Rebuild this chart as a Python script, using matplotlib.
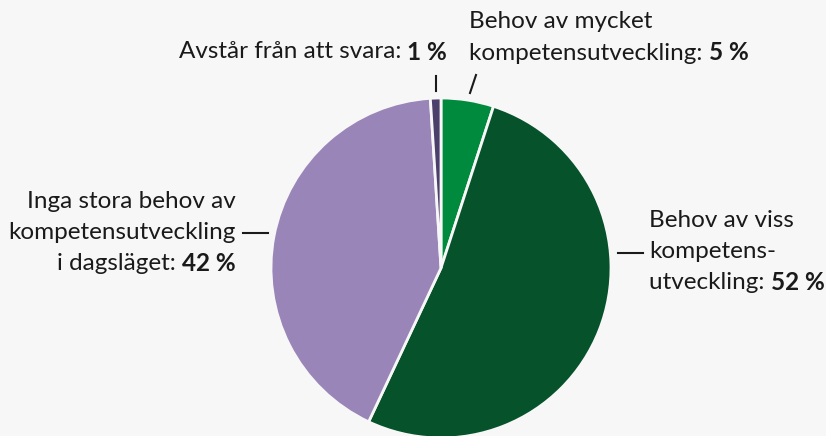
import matplotlib.pyplot as plt

plt.rcParams['font.family'] = ['Lato', 'DejaVu Sans']

shares = [5, 52, 42, 1]
colors = ['#008a3e', '#06522a', '#9985b8', '#4b3f6b']
labels = [
    (["Behov av mycket", "kompetensutveckling: "], "5 %"),
    (["Behov av viss", "kompetens-", "utveckling: "], "52 %"),
    (["Inga stora behov av", "kompetensutveckling", "i dagsläget: "], "42 %"),
    (["Avstår från att svara: "], "1 %"),
]

W, H = 826, 436
fig = plt.figure(figsize=(W / 100, H / 100), dpi=100)
fig.patch.set_facecolor('#f7f7f7')

cx, cy, r = 441, 268, 170
ax = fig.add_axes([(cx - r) / W, (H - cy - r) / H, 2 * r / W, 2 * r / H])
ax.pie(shares, colors=colors, startangle=90, counterclock=False,
       wedgeprops=dict(edgecolor='#f7f7f7', linewidth=2))
ax.set_xlim(-1, 1)
ax.set_ylim(-1, 1)
ax.set_aspect('equal')

# overlay in pixel coords for labels and leader lines
ov = fig.add_axes([0, 0, 1, 1])
ov.set_xlim(0, W)
ov.set_ylim(H, 0)
ov.axis('off')
ov.patch.set_alpha(0)

fs = 17.5
lh = 31
# (x, y of first line, align)
pos = [(469, 22, 'left'), (649, 220, 'left'), (236, 201, 'right'), (447, 52, 'right')]

fig.canvas.draw()
rend = fig.canvas.get_renderer()
inv = ov.transData.inverted()

for (lines, num), (x, y0, ha) in zip(labels, pos):
    for i, ln in enumerate(lines):
        y = y0 + i * lh
        last = i == len(lines) - 1
        if ha == 'left':
            t = ov.text(x, y, ln, ha='left', va='center', fontsize=fs, color='#1a1a1a')
            if last:
                bb = t.get_window_extent(rend)
                xe = inv.transform((bb.x1, bb.y0))[0]
                ov.text(xe, y, num, ha='left', va='center', fontsize=fs,
                        fontweight='bold', color='#1a1a1a')
        else:
            if last:
                b = ov.text(x, y, num, ha='right', va='center', fontsize=fs,
                            fontweight='bold', color='#1a1a1a')
                bb = b.get_window_extent(rend)
                xs = inv.transform((bb.x0, bb.y0))[0]
                ov.text(xs, y, ln, ha='right', va='center', fontsize=fs, color='#1a1a1a')
            else:
                ov.text(x, y, ln, ha='right', va='center', fontsize=fs, color='#1a1a1a')

# leader lines
kw = dict(color='#1a1a1a', linewidth=1.5)
ov.plot([436, 436], [76, 91], **kw)
ov.plot([476, 470], [75, 93], **kw)
ov.plot([243, 268], [233, 233], **kw)
ov.plot([618, 643], [253, 253], **kw)

fig.savefig('out.png', dpi=100, facecolor=fig.get_facecolor())
